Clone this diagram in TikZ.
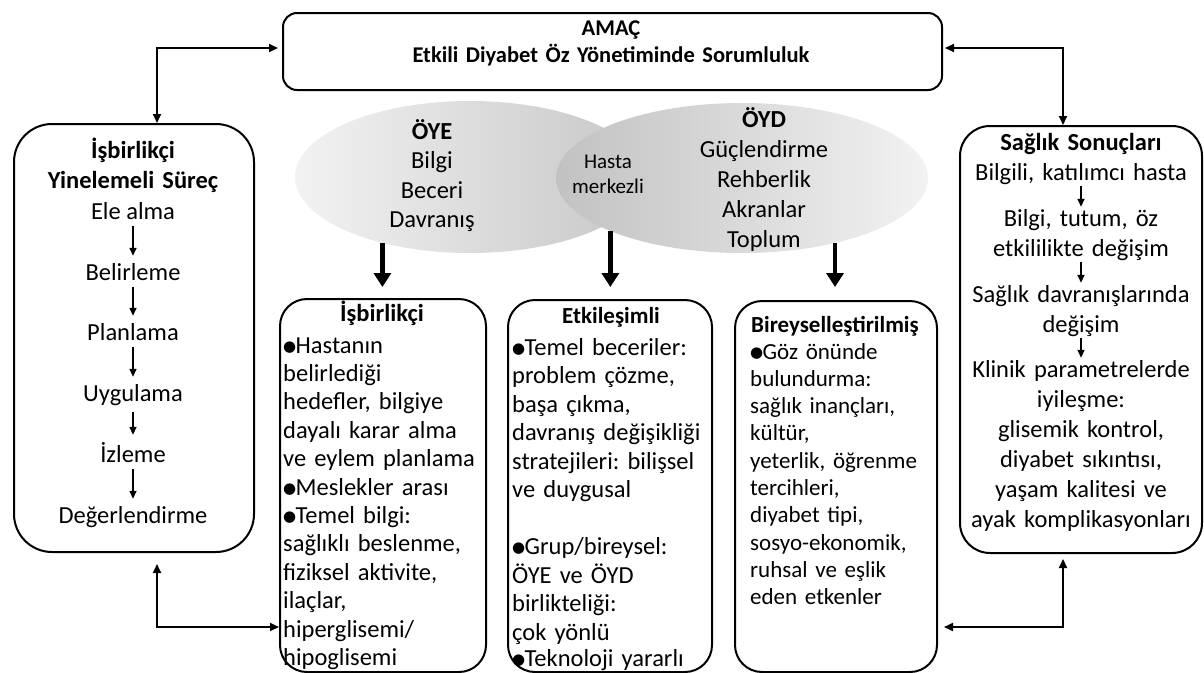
\documentclass[tikz,border=0pt]{standalone}
\usepackage{fontspec}
\setmainfont{Carlito}
\newfontfamily\dejavu{DejaVu Sans}
\usetikzlibrary{arrows.meta,shapes.geometric}
\newcommand\bul{\makebox[12.5pt][l]{\raisebox{1.6pt}{\dejavu\fontsize{15}{15}\selectfont ●}}}
\newcommand\fs[2]{\fontsize{#1}{#2}\selectfont}
\begin{document}
\frenchspacing
\begin{tikzpicture}[x=1pt,y=-1pt,
  box/.style={draw, line width=2pt, rounded corners=#1, inner sep=0pt, anchor=north west},
  ctext/.style={anchor=base, align=center, inner sep=0pt},
  body/.style={anchor=base west, text width=198pt, align=left, inner sep=0pt},
  litem/.style={anchor=base, align=center, inner xsep=0pt, inner ysep=7pt, font=\fs{24.5}{30}},
  ritem/.style={anchor=base, text width=240pt, align=center, inner xsep=0pt, inner ysep=2pt, font=\fs{24.5}{30}},
  conn/.style={line width=1.8pt, {Triangle[length=9pt,width=8pt]}-{Triangle[length=9pt,width=8pt]}},
  sarr/.style={line width=1.6pt, -{Triangle[length=8pt,width=7pt]}},
  barr/.style={line width=4.5pt, -{Triangle[length=14pt,width=17pt]}}
]
\useasboundingbox (0,0) rectangle (1204,672);

% ellipses
\node[ellipse, minimum width=350pt, minimum height=152pt, inner sep=0pt,
      left color=black!5, right color=black!22] (oye) at (470,177) {};
\node[ellipse, minimum width=372pt, minimum height=150pt, inner sep=0pt,
      left color=black!24, right color=black!5] (oyd) at (742,178) {};

% boxes
\node[box=14pt, minimum width=659pt, minimum height=77pt] (amac) at (282,12) {};
\node[box=38pt, minimum width=240pt, minimum height=428pt] (lb) at (13,123) {};
\node[box=30pt, minimum width=242pt, minimum height=427pt] (rb) at (959,125) {};
\node[box=27pt, minimum width=206pt, minimum height=373pt] (b1) at (279,298) {};
\node[box=27pt, minimum width=204pt, minimum height=372pt] (b2) at (507,299) {};
\node[box=27pt, minimum width=202pt, minimum height=371pt] (b3) at (734,300) {};

% top text
\node[ctext, text width=640pt, font=\bfseries\fs{22.5}{27}] (amact) at (611,35)
  {AMAÇ\\Etkili Diyabet Öz Yönetiminde Sorumluluk};

% ellipse texts
\node[ctext, text width=170pt, font=\fs{24.5}{29.5}] (oyet) at (432,139)
  {\textbf{ÖYE}\\Bilgi\\Beceri\\Davranış};
\node[ctext, text width=90pt, font=\fs{21}{25}] (hasta) at (608,168)
  {Hasta\\merkezli};
\node[ctext, text width=170pt, font=\fs{24.5}{30}] (oydt) at (764,127)
  {\textbf{ÖYD}\\Güçlendirme\\Rehberlik\\Akranlar\\Toplum};

% left box
\node[ctext, text width=230pt, font=\bfseries\fs{24.5}{30}] (lbt) at (133,158)
  {İşbirlikçi\\Yinelemeli Süreç};
\node[litem] (l1) at (133,219) {Ele alma};
\node[litem] (l2) at (133,280) {Belirleme};
\node[litem] (l3) at (133,340) {Planlama};
\node[litem] (l4) at (133,401) {Uygulama};
\node[litem] (l5) at (133,462) {İzleme};
\node[litem] (l6) at (133,523) {Değerlendirme};
\draw[sarr] (l1) -- (l2);
\draw[sarr] (l2) -- (l3);
\draw[sarr] (l3) -- (l4);
\draw[sarr] (l4) -- (l5);
\draw[sarr] (l5) -- (l6);

% right box
\node[ctext, text width=240pt, font=\bfseries\fs{24.5}{30}] (rbt) at (1081,150)
  {Sağlık Sonuçları};
\node[ritem] (r1) at (1081,180) {Bilgili, katılımcı hasta};
\node[ritem] (r2) at (1081,226) {Bilgi, tutum, öz\\etkililikte değişim};
\node[ritem] (r3) at (1081,302) {Sağlık davranışlarında\\değişim};
\node[ritem] (r4) at (1081,377) {Klinik parametrelerde\\iyileşme:\\glisemik kontrol,\\diyabet sıkıntısı,\\yaşam kalitesi ve\\ayak komplikasyonları};
\draw[sarr] (r1) -- (r2);
\draw[sarr] (r2) -- (r3);
\draw[sarr] (r3) -- (r4);

% middle box 1
\node[ctext, font=\bfseries\fs{24.5}{30}] (b1t) at (382,321) {İşbirlikçi};
\node[body, font=\fs{24.5}{28.4}] (b1b) at (283,353)
  {\bul Hastanın\\belirlediği\\\makebox[190pt][s]{hedefler, bilgiye}\\\makebox[190pt][s]{dayalı karar alma}\\ve eylem planlama\\\bul Meslekler arası\\\bul Temel bilgi:\\sağlıklı beslenme,\\fiziksel aktivite,\\ilaçlar,\\hiperglisemi/\\hipoglisemi};

% middle box 2
\node[ctext, font=\bfseries\fs{23}{30}] (b2t) at (611,323) {Etkileşimli};
\node[body, font=\fs{24.5}{28.5}] (b2b) at (512,355)
  {\bul Temel beceriler:\\problem çözme,\\başa çıkma,\\davranış değişikliği\\stratejileri: bilişsel\\ve duygusal\\[28.5pt]\bul Grup/bireysel:\\ÖYE ve ÖYD\\birlikteliği:\\çok yönlü\\[-2pt]\bul Teknoloji yararlı};

% middle box 3
\node[ctext, font=\bfseries\fs{23}{30}] (b3t) at (835,332) {Bireyselleştirilmiş};
\node[body, font=\fs{23}{27.3}] (b3b) at (750,359)
  {\bul Göz önünde\\bulundurma:\\sağlık inançları,\\kültür,\\yeterlik, öğrenme\\tercihleri,\\diyabet tipi,\\sosyo-ekonomik,\\ruhsal ve eşlik\\eden etkenler};

% thick arrows
\draw[barr, shorten >=11pt] (oye.217) -- (oye.217 |- b1.north);
\draw[barr, shorten >=12pt] (oyd.202) -- (oyd.202 |- b2.north);
\draw[barr, shorten >=13pt] (oyd.325) -- (oyd.325 |- b3.north);

% connectors
\coordinate (yhi) at (0,48);
\coordinate (ylo) at (0,627);
\draw[conn, shorten >=4pt] ([xshift=23pt]lb.north) |- (amac.west |- yhi);
\draw[conn, shorten <=2pt] (amac.east |- yhi) -| ([xshift=-18pt]rb.north);
\draw[conn, shorten <=11pt] ([xshift=23pt]lb.south) |- (b1.west |- ylo);
\draw[conn, shorten <=5pt, shorten >=6pt] ([xshift=-18pt]rb.south) |- (b3.east |- ylo);
\end{tikzpicture}
\end{document}
